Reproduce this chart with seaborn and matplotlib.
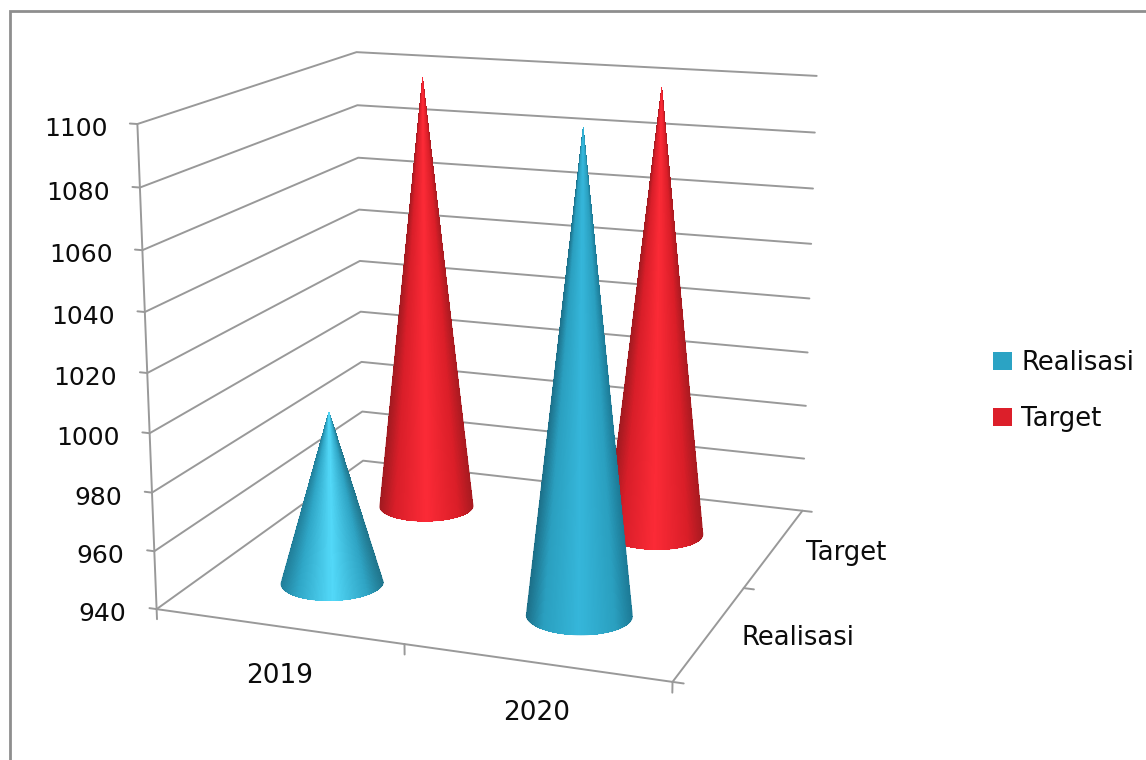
import numpy as np
import matplotlib
matplotlib.use("Agg")
import matplotlib.pyplot as plt
import seaborn as sns
from matplotlib.colors import to_rgb
from matplotlib.patches import Patch, Rectangle

years = ["2019", "2020"]
series = ["Realisasi", "Target"]
realisasi = [1000, 1100]
target = [1099, 1100]
z_ticks = [940, 960, 980, 1000, 1020, 1040, 1060, 1080, 1100]

# left edge, shoulder, highlight, shoulder, right edge of each cone
blue_2019 = ["#217f9a", "#2fa6c6", "#52d8f8", "#2fa4c4", "#20758c"]
blue_2020 = ["#1c6f88", "#2a9fbf", "#35b6da", "#2a9fbf", "#1c7a96"]
red_cone = ["#a01a20", "#d81e29", "#fb2a36", "#da1e28", "#a81a20"]
grid = "#999999"

sns.set_theme(style="white")
plt.rcParams["font.family"] = ["DejaVu Sans"]
W, H = 1146, 760
fig = plt.figure(figsize=(W / 100, H / 100), dpi=100)
ax = fig.add_subplot(projection="3d", computed_zorder=False)
ax.set_xlim(0, 2)
ax.set_ylim(0, 2)
ax.set_zlim(940, 1100)
ax.set_axis_off()

box_x, box_y = 1.0935, 1.0584
azim = -69.6836
ax.view_init(elev=14.6737, azim=azim, roll=0.0654)
ax.set_proj_type("persp", focal_length=0.5290)
ax.set_box_aspect((box_x, box_y, 1.0))
s, tx, ty = 4527.06, 497.73, 333.56
vl = ax.viewLim
ax.set_position([(tx + s * vl.x0) / W, (H - (ty - s * vl.y0)) / H, s * vl.width / W, s * vl.height / H])


def project(x, y, z):
    q = np.c_[x, y, z, np.ones(len(x))] @ ax.get_proj().T
    return q[:, 0] / q[:, 3], q[:, 1] / q[:, 3]


def cone_layer(cx, cy, value, stops, order, rx, smooth):
    ry = rx * box_x / box_y
    # only the half that faces the camera
    a0 = np.radians(azim)
    theta = np.linspace(a0 - np.pi / 2, a0 + np.pi / 2, 121)
    t = np.linspace(0, 1, 2)
    T, A = np.meshgrid(t, theta, indexing="ij")
    X = cx + rx * (1 - T) * np.cos(A)
    Y = cy + ry * (1 - T) * np.sin(A)
    Z = 940 + (value - 940) * T
    # colour each facet by where it falls across the silhouette
    mid = (theta[:-1] + theta[1:]) / 2
    px, _ = project(cx + rx * np.cos(mid), cy + ry * np.sin(mid), np.full(mid.shape, 940.0))
    u = (px - (px.max() + px.min()) / 2) / ((px.max() - px.min()) / 2)
    rgb = np.array([to_rgb(c) for c in stops])
    knots = [-1, -0.68, 0.0, 0.68, 1]
    col = np.c_[[np.interp(u, knots, rgb[:, k]) for k in range(3)]].T
    col = np.repeat(col[None, :, :], len(t) - 1, axis=0)
    ax.plot_surface(X, Y, Z, facecolors=col, rcount=len(t), ccount=len(theta), shade=False,
                    linewidth=0, antialiased=smooth, zorder=order)


def cone(cx, cy, value, stops, order, rx=0.198):
    # smooth outline underneath, seamless facets on top
    cone_layer(cx, cy, value, stops, order, rx, True)
    cone_layer(cx, cy, value, stops, order + 0.5, rx * 0.985, False)


for z in z_ticks:
    ax.plot([-0.03, 0, 0, 2], [0, 0, 2, 2], [z, z, z, z], color=grid, lw=1.4, zorder=1)
ax.plot([2.04, 2, 2, 0], [2, 2, 0, 0], [940, 940, 940, 940], color=grid, lw=1.4, zorder=1)
ax.plot([0, 0], [0, 0], [936.5, 1100], color=grid, lw=1.4, zorder=1)
for x in [1, 2]:
    ax.plot([x, x], [0, 0], [936.5, 940], color=grid, lw=1.4, zorder=1)
for y in [0, 1]:
    ax.plot([2, 2.04], [y, y], [940, 940], color=grid, lw=1.4, zorder=1)

cone(0.5, 1.5, target[0], red_cone, 2)
cone(1.5, 1.5, target[1], red_cone, 3)
cone(0.5, 0.5, realisasi[0], blue_2019, 4)
cone(1.5, 0.5, realisasi[1], blue_2020, 5)


def label(text, x, y, z, dx, dy, ha, size=18):
    px, py = project(np.array([x]), np.array([y]), np.array([float(z)]))
    ax.annotate(text, xy=(px[0], py[0]), xycoords="data", xytext=(dx, dy), textcoords="offset pixels",
                ha=ha, va="center", fontsize=size, color="#0c0c0c", annotation_clip=False)


for z in z_ticks:
    label(str(z), 0, 0, z, -30, -5, "right")
for i, year in enumerate(years):
    label(year, i + 0.5, 0, 940, 1, -50, "center", 19)
for i, name in enumerate(series):
    label(name, 2, i + 0.5, 940, 32, -5, "left", 18.6)

fig.add_artist(Rectangle((10 / W, -0.02), 1.1, (H - 11) / H + 0.02, transform=fig.transFigure,
                         fill=False, edgecolor="#8e8e8e", lw=2.0))
pal = sns.color_palette(["#2ba3c4", "#dc1f2a"])
handles = [Patch(facecolor=c, edgecolor="none") for c in pal]
fig.legend(handles, series, loc="center left", bbox_to_anchor=(993 / W, 1 - 391 / H), frameon=False,
           fontsize=18.6, handlelength=0.74, handleheight=0.74, handletextpad=0.36, labelspacing=1.16,
           borderpad=0, borderaxespad=0, labelcolor="#0c0c0c")
fig.savefig("out.png", dpi=100)
